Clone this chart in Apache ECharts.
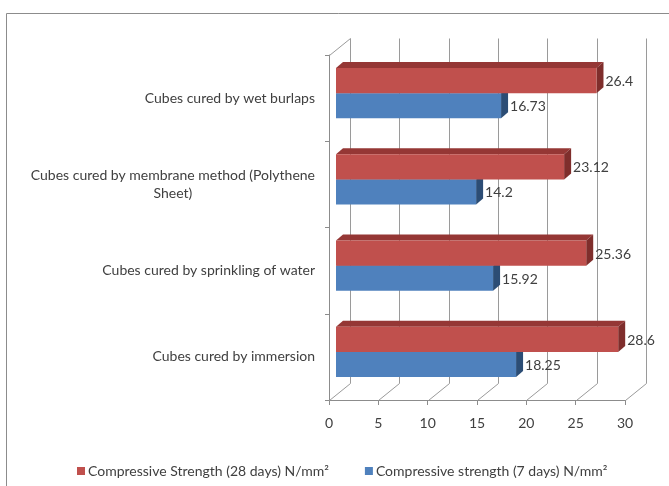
<!DOCTYPE html>
<html><head><meta charset="utf-8">
<script src="https://cdn.jsdelivr.net/npm/echarts@6/dist/echarts.min.js"></script>
<style>html,body{margin:0;padding:0;background:#fff}#c{width:669px;height:486px}</style>
</head><body><div id="c"></div>
<script>
const categories = ['Cubes cured by immersion', 'Cubes cured by sprinkling of water', 'Cubes cured by membrane method (Polythene\nSheet)', 'Cubes cured by wet burlaps'];
const strength28 = [28.6, 25.36, 23.12, 26.4];
const strength7 = [18.25, 15.92, 14.2, 16.73];
const xTicks = [0, 5, 10, 15, 20, 25, 30];
const seriesNames = ['Compressive Strength (28 days) N/mm²', 'Compressive strength (7 days) N/mm²'];

const FONT = 'Lato';
const FS = 14;
const TXT = '#404040';
const DX = 21, DY = 17;   // wall depth
const BX = 7, BY = 5;     // bar plane offset
const BDX = 7, BDY = 6;   // bar depth

function frameItem(params, api) {
  const v = api.value(0);
  const band = api.size([0, 1])[1];
  const b = api.coord([v, 0]);
  const t = api.coord([v, categories.length - 1]);
  const x = Math.round(b[0]) + 0.5;
  const yb = Math.round(b[1] + band / 2) + 0.5;
  const yt = Math.round(t[1] - band / 2) + 0.5;
  const st = {stroke: '#9a9a9a', lineWidth: 1};
  const children = [
    {type: 'line', shape: {x1: x, y1: yb, x2: x + DX, y2: yb - DY}, style: st},
    {type: 'line', shape: {x1: x + DX, y1: yb - DY, x2: x + DX, y2: yt - DY}, style: st}
  ];
  if (params.dataIndex === 0) {
    children.push({type: 'line', shape: {x1: x, y1: yt, x2: x + DX, y2: yt - DY}, style: st});
  }
  return {type: 'group', children: children};
}

function barItem(which, cFront, cTop, cSide) {
  return function (params, api) {
    const val = api.value(0), idx = api.value(1);
    const band = api.size([0, 1])[1];
    const h = band * 0.29;
    const p0 = api.coord([0, idx]), p1 = api.coord([val, idx]);
    const cy = p0[1] - BY;
    const y0 = which === 0 ? cy - h : cy;
    const y1 = y0 + h;
    const xa = p0[0] + BX, xb = p1[0] + BX;
    return {
      type: 'group',
      children: [
        {type: 'polygon', shape: {points: [[xa, y0], [xa + BDX, y0 - BDY], [xb + BDX, y0 - BDY], [xb, y0]]}, style: {fill: cTop}},
        {type: 'polygon', shape: {points: [[xb, y0], [xb + BDX, y0 - BDY], [xb + BDX, y1 - BDY], [xb, y1]]}, style: {fill: cSide}},
        {type: 'rect', shape: {x: xa, y: y0, width: xb - xa, height: y1 - y0}, style: {fill: cFront}},
        {type: 'text', x: xb + BDX + 2, y: (y0 + y1) / 2 + 1,
         style: {text: String(val), fill: TXT, fontSize: FS, fontFamily: FONT, align: 'left', verticalAlign: 'middle'}}
      ]
    };
  };
}

const chart = echarts.init(document.getElementById('c'), null, {renderer: 'canvas'});
chart.setOption({
  animation: false,
  backgroundColor: '#fff',
  textStyle: {fontFamily: FONT},
  graphic: [{type: 'rect', z: -10, shape: {x: 6.5, y: 13.5, width: 700, height: 500},
             style: {fill: 'transparent', stroke: '#8c8c8c', lineWidth: 1}}],
  legend: {
    left: 77, top: 464, padding: 0, icon: 'rect', itemWidth: 8, itemHeight: 8, itemGap: 36,
    textStyle: {fontSize: FS, fontFamily: FONT, color: TXT, padding: [0, 0, 0, -2]},
    data: seriesNames
  },
  grid: {left: 329, top: 55, width: 296, height: 345},
  xAxis: {
    type: 'value', min: 0, max: 30, interval: 5,
    axisLine: {show: true, lineStyle: {color: '#8c8c8c'}},
    axisTick: {show: true, length: 5, lineStyle: {color: '#8c8c8c'}},
    axisLabel: {fontSize: FS, fontFamily: FONT, color: TXT, margin: 16},
    splitLine: {show: false}
  },
  yAxis: {
    type: 'category', data: categories,
    axisLine: {show: true, lineStyle: {color: '#8c8c8c'}},
    axisTick: {show: true, length: 4, lineStyle: {color: '#8c8c8c'}},
    axisLabel: {
      fontSize: FS, fontFamily: FONT, color: TXT, margin: 14, align: 'right',
      formatter: function (s) {
        if (s.indexOf('\n') < 0) return s;
        return s.split('\n').map(function (l) { return '{c|' + l + '}'; }).join('\n');
      },
      rich: {c: {align: 'center', fontSize: FS, fontFamily: FONT, color: TXT, lineHeight: 18}}
    }
  },
  series: [
    {type: 'custom', name: 'frame', z: 1, silent: true, renderItem: frameItem,
     data: xTicks.map(function (v) { return [v, 0]; }), encode: {x: 0, y: 1}},
    {type: 'custom', name: seriesNames[0], z: 4, itemStyle: {color: '#C0504D'},
     renderItem: barItem(0, '#C0504D', '#953735', '#7F2E2C'),
     data: strength28.map(function (v, i) { return [v, i]; }), encode: {x: 0, y: 1}},
    {type: 'custom', name: seriesNames[1], z: 3, itemStyle: {color: '#4F81BD'},
     renderItem: barItem(1, '#4F81BD', '#3B6396', '#2C4D75'),
     data: strength7.map(function (v, i) { return [v, i]; }), encode: {x: 0, y: 1}}
  ]
});
</script></body></html>
